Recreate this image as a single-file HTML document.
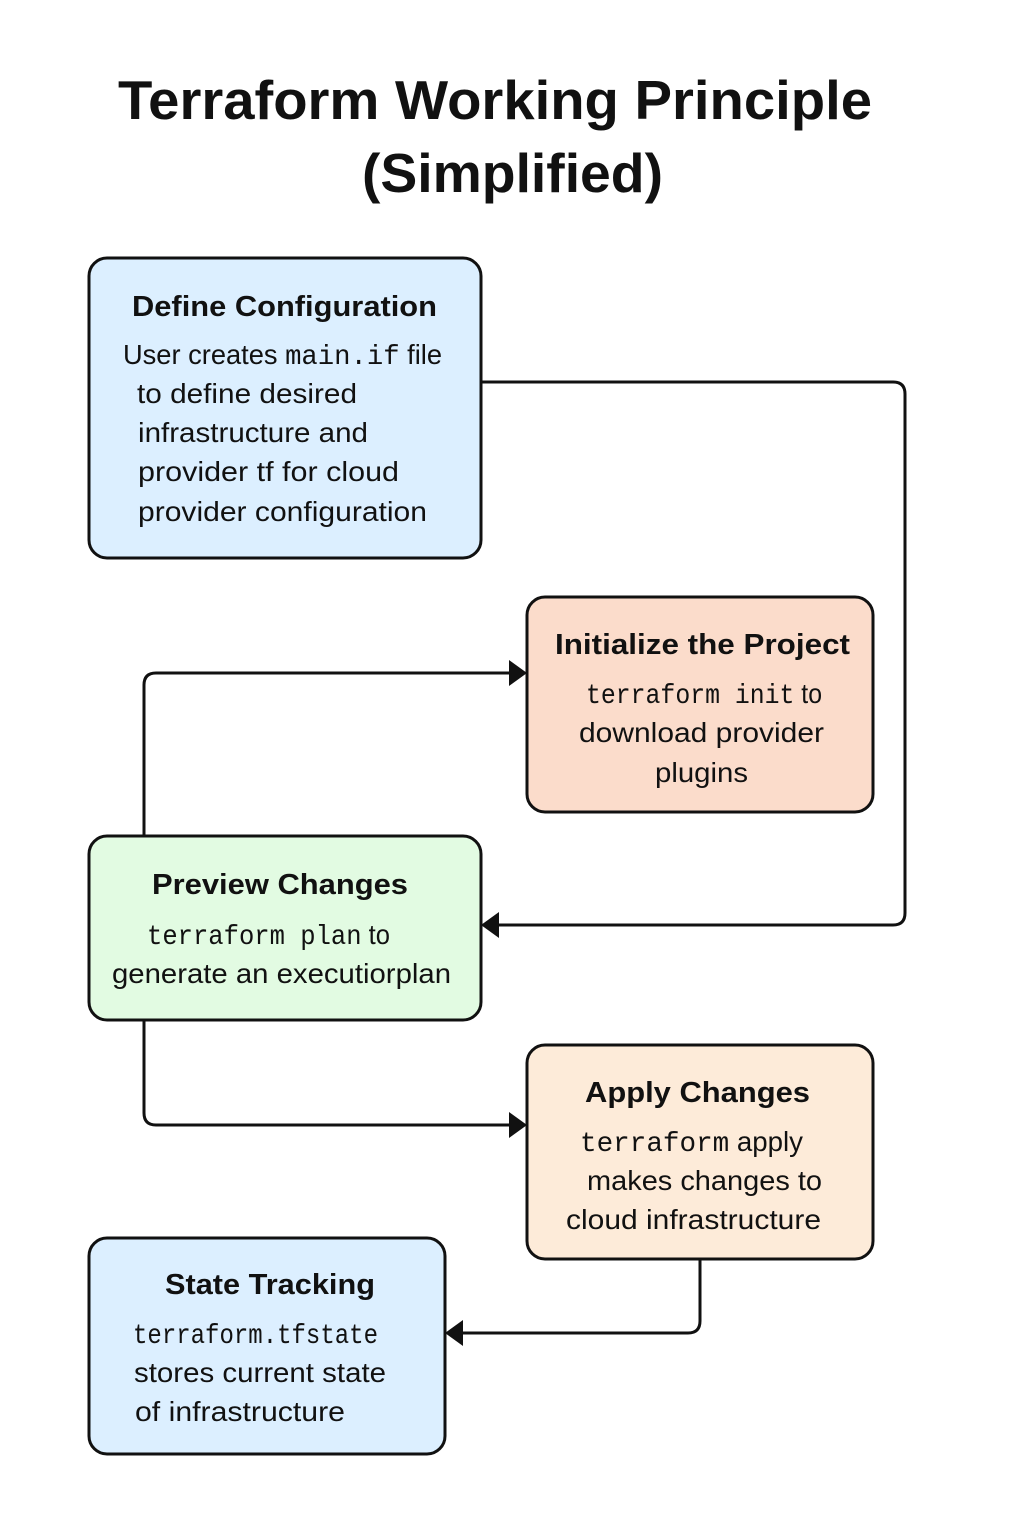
<!DOCTYPE html>
<html><head><meta charset="utf-8"><style>
html,body{margin:0;padding:0;background:#fff}
svg{display:block}
.t{font-family:"Liberation Sans","DejaVu Sans",sans-serif;font-weight:bold;font-size:29px;fill:#111}
.b{font-family:"Liberation Sans","DejaVu Sans",sans-serif;font-size:28px;fill:#111}
.m{font-family:"Liberation Mono","DejaVu Sans Mono",monospace}
.h{font-family:"Liberation Sans","DejaVu Sans",sans-serif;font-weight:bold;font-size:55px;fill:#111}
</style></head><body>
<svg width="1024" height="1536" viewBox="0 0 1024 1536">
<text class="h" x="118" y="119" textLength="754" lengthAdjust="spacingAndGlyphs">Terraform Working Principle</text>
<text class="h" x="362" y="192" textLength="301" lengthAdjust="spacingAndGlyphs">(Simplified)</text>

<g fill="none" stroke="#111" stroke-width="3">
<path d="M481,382 H893 Q905,382 905,394 V913 Q905,925 893,925 H499"/>
<path d="M144,836 V685 Q144,673 156,673 H509"/>
<path d="M144,1020 V1113 Q144,1125 156,1125 H509"/>
<path d="M700,1259 V1321 Q700,1333 688,1333 H463"/>
</g>
<path d="M509,660 L527,673 L509,686z" fill="#111"/>
<path d="M509,1112 L527,1125 L509,1138z" fill="#111"/>
<path d="M499,912 L481,925 L499,938z" fill="#111"/>
<path d="M463,1320 L445,1333 L463,1346z" fill="#111"/>

<g stroke="#111" stroke-width="3">
<rect x="89" y="258" width="392" height="300" rx="18" fill="#dcefff"/>
<rect x="527" y="597" width="346" height="215" rx="18" fill="#fbdccb"/>
<rect x="89" y="836" width="392" height="184" rx="18" fill="#e2fbe2"/>
<rect x="527" y="1045" width="346" height="214" rx="18" fill="#fdebd9"/>
<rect x="89" y="1238" width="356" height="216" rx="18" fill="#dcefff"/>
</g>

<g lengthAdjust="spacingAndGlyphs">
<text class="t" x="132" y="316" textLength="305" lengthAdjust="spacingAndGlyphs">Define Configuration</text>
<text class="b" x="123" y="364" textLength="319" lengthAdjust="spacingAndGlyphs">User creates <tspan class="m">main.if</tspan> file</text>
<text class="b" x="137" y="403" textLength="220" lengthAdjust="spacingAndGlyphs">to define desired</text>
<text class="b" x="138" y="442" textLength="230" lengthAdjust="spacingAndGlyphs">infrastructure and</text>
<text class="b" x="138" y="481" textLength="261" lengthAdjust="spacingAndGlyphs">provider tf for cloud</text>
<text class="b" x="138" y="521" textLength="289" lengthAdjust="spacingAndGlyphs">provider configuration</text>

<text class="t" x="555" y="654" textLength="295" lengthAdjust="spacingAndGlyphs">Initialize the Project</text>
<text class="b" x="586" y="703" textLength="236" lengthAdjust="spacingAndGlyphs"><tspan class="m">terraform init</tspan> to</text>
<text class="b" x="579" y="742" textLength="245" lengthAdjust="spacingAndGlyphs">download provider</text>
<text class="b" x="655" y="782" textLength="93" lengthAdjust="spacingAndGlyphs">plugins</text>

<text class="t" x="152" y="894" textLength="256" lengthAdjust="spacingAndGlyphs">Preview Changes</text>
<text class="b" x="147" y="944" textLength="243" lengthAdjust="spacingAndGlyphs"><tspan class="m">terraform plan</tspan> to</text>
<text class="b" x="112" y="983" textLength="339" lengthAdjust="spacingAndGlyphs">generate an executiorplan</text>

<text class="t" x="585" y="1102" textLength="225" lengthAdjust="spacingAndGlyphs">Apply Changes</text>
<text class="b" x="580" y="1151" textLength="223" lengthAdjust="spacingAndGlyphs"><tspan class="m">terraform</tspan> apply</text>
<text class="b" x="587" y="1190" textLength="235" lengthAdjust="spacingAndGlyphs">makes changes to</text>
<text class="b" x="566" y="1229" textLength="255" lengthAdjust="spacingAndGlyphs">cloud infrastructure</text>

<text class="t" x="165" y="1294" textLength="210" lengthAdjust="spacingAndGlyphs">State Tracking</text>
<text class="b m" x="133" y="1343" textLength="245" lengthAdjust="spacingAndGlyphs">terraform.tfstate</text>
<text class="b" x="134" y="1382" textLength="252" lengthAdjust="spacingAndGlyphs">stores current state</text>
<text class="b" x="135" y="1421" textLength="210" lengthAdjust="spacingAndGlyphs">of infrastructure</text>
</g>
</svg>
</body></html>
